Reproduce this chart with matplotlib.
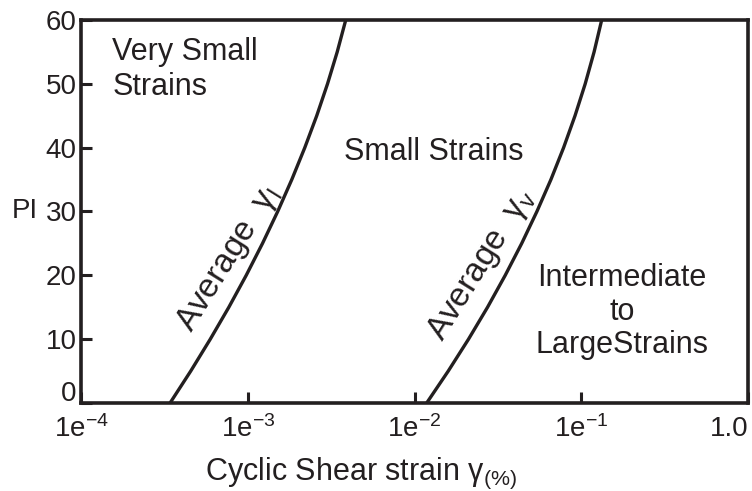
import matplotlib
matplotlib.use("Agg")
import matplotlib.pyplot as plt
import matplotlib.transforms as mtransforms

plt.rcParams['font.family'] = ['Liberation Sans', 'DejaVu Sans']
plt.rcParams['mathtext.fontset'] = 'custom'
plt.rcParams['mathtext.rm'] = 'Liberation Sans'
plt.rcParams['mathtext.it'] = 'Liberation Sans'
plt.rcParams['mathtext.default'] = 'rm'

ink = '#231f20'

# plasticity index and the two threshold strains
pi_vals = [0, 5, 10, 15, 20, 25, 30, 35, 40, 45, 50, 55, 60]
gamma_t_linear = [3.42e-4, 4.55e-4, 5.96e-4, 7.70e-4, 9.79e-4, 1.226e-3, 1.512e-3,
                  1.837e-3, 2.198e-3, 2.592e-3, 3.009e-3, 3.44e-3, 3.87e-3]
gamma_t_volume = [0.01183, 0.01593, 0.02108, 0.02741, 0.03499, 0.04394, 0.05420,
                  0.06577, 0.07836, 0.09174, 0.1056, 0.1194, 0.1326]

x_ticks = [1e-4, 1e-3, 1e-2, 1e-1, 1.0]
x_tick_labels = ['1e$^{-4}$', '1e$^{-3}$', '1e$^{-2}$', '1e$^{-1}$', '1.0']
y_ticks = [0, 10, 20, 30, 40, 50, 60]

fig = plt.figure(figsize=(7.52, 4.91), dpi=100)
ax = fig.add_axes([0.1077, 0.1792, 0.887, 0.7801])

ax.plot(gamma_t_linear, pi_vals, color=ink, lw=2.4, solid_capstyle='butt')
ax.plot(gamma_t_volume, pi_vals, color=ink, lw=2.4, solid_capstyle='butt')

ax.set_xscale('log')
ax.set_xlim(1e-4, 1.0)
ax.set_ylim(0, 60)
ax.set_xticks(x_ticks)
ax.set_xticklabels(x_tick_labels)
ax.minorticks_off()
ax.set_yticks(y_ticks)

for s in ax.spines.values():
    s.set_linewidth(2.6)
    s.set_color(ink)

ax.tick_params(axis='both', direction='in', length=8, width=2.2, color=ink,
               labelsize=20, labelcolor=ink)
ax.tick_params(axis='x', pad=9)
ax.tick_params(axis='y', pad=3)

# last x label sits inside the figure, the 0 label is lifted off the corner
ax.get_xticklabels()[-1].set_horizontalalignment('right')
lab0 = ax.get_yticklabels()[0]
lab0.set_transform(lab0.get_transform() +
                   mtransforms.ScaledTranslation(0, 9 / 72, fig.dpi_scale_trans))

ax.set_xlabel('Cyclic Shear strain γ$_{(\\%)}$', fontsize=22, color=ink)
ax.xaxis.set_label_coords(0.42, -0.137)
fig.text(12 / 752, 1 - 211 / 491, 'PI', fontsize=20, color=ink,
         ha='left', va='center')

txt = dict(fontsize=22, color=ink)
ax.text(0.047, 0.955, 'Very Small\nStrains', transform=ax.transAxes,
        ha='left', va='top', linespacing=1.2, **txt)
ax.text(0.394, 0.655, 'Small Strains', transform=ax.transAxes,
        ha='left', va='center', **txt)
ax.text(0.811, 0.238, 'Intermediate\nto\nLargeStrains', transform=ax.transAxes,
        ha='center', va='center', linespacing=1.15, **txt)

ax.text(0.222, 0.378, 'Average  $\\gamma_{I}$', transform=ax.transAxes,
        rotation=58, ha='center', va='center', fontsize=24, color=ink)
ax.text(0.601, 0.362, 'Average  $\\gamma_{v}$', transform=ax.transAxes,
        rotation=58, ha='center', va='center', fontsize=24, color=ink)

fig.savefig('out.png', dpi=100)
